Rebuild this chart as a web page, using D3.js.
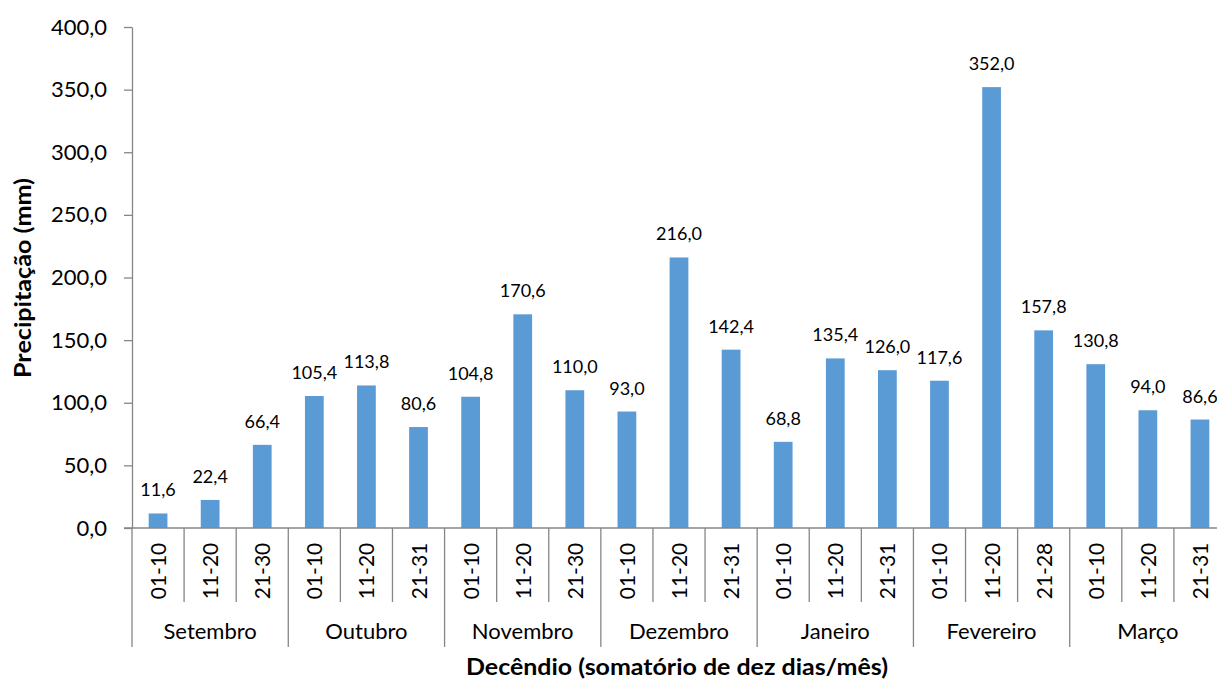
<!DOCTYPE html>
<html><head><meta charset="utf-8">
<script src="https://cdn.jsdelivr.net/npm/d3@7"></script>
<style>
html,body{margin:0;padding:0;background:#fff;overflow:hidden}
text{font-family:Lato,"Open Sans",sans-serif;fill:#000}
</style></head><body>
<svg id="c" width="1217" height="679"></svg>
<script>
const months = ["Setembro","Outubro","Novembro","Dezembro","Janeiro","Fevereiro","Março"];
const decendios = ["01-10","11-20","21-30","01-10","11-20","21-31","01-10","11-20","21-30","01-10","11-20","21-31","01-10","11-20","21-31","01-10","11-20","21-28","01-10","11-20","21-31"];
const values = [11.6,22.4,66.4,105.4,113.8,80.6,104.8,170.6,110.0,93.0,216.0,142.4,68.8,135.4,126.0,117.6,352.0,157.8,130.8,94.0,86.6];
const yTicks = [0,50,100,150,200,250,300,350,400];

const loc = d3.formatLocale({decimal:",",thousands:".",grouping:[3],currency:["R$",""]});
const fmt = loc.format(".1f");

const svg = d3.select("#c");
const L = 132, R = 1226, B = 528, T = 27;
const x = d3.scaleBand().domain(d3.range(values.length)).range([L,R]).paddingInner(0.64).paddingOuter(0.32);
const y = d3.scaleLinear().domain([0,400]).range([B,T]);
const step = x.step();
const axisColor = "#868686";

// y axis
const ya = svg.append("g").attr("transform",`translate(${L},0)`)
  .call(d3.axisLeft(y).tickValues(yTicks).tickFormat(fmt).tickSizeInner(8).tickSizeOuter(0).tickPadding(17));
ya.select(".domain").attr("stroke",axisColor).attr("stroke-width",1.3);
ya.selectAll(".tick line").attr("stroke",axisColor).attr("stroke-width",1.3);
ya.selectAll(".tick text").attr("font-size",22).attr("font-family","Lato").attr("fill","#000");

// bars
svg.append("g").selectAll("rect").data(values).join("rect")
  .attr("x",(d,i)=>x(i)).attr("width",x.bandwidth())
  .attr("y",d=>y(d)).attr("height",d=>B-y(d))
  .attr("fill","#5B9BD5");

// data labels
svg.append("g").selectAll("text").data(values).join("text")
  .attr("x",(d,i)=>x(i)+x.bandwidth()/2).attr("y",d=>y(d)-17)
  .attr("text-anchor","middle").attr("font-size",18).text(d=>fmt(d));

// x axis line
svg.append("line").attr("x1",L-8).attr("x2",R).attr("y1",B).attr("y2",B)
  .attr("stroke",axisColor).attr("stroke-width",1.3);

// category dividers
const g = svg.append("g");
d3.range(values.length+1).forEach(i=>{
  const xx = L + i*step;
  const isMonth = i%3===0;
  g.append("line").attr("x1",xx).attr("x2",xx).attr("y1",B).attr("y2",isMonth?647:602)
    .attr("stroke",axisColor).attr("stroke-width",1.3);
});

// decendio labels (rotated)
svg.append("g").selectAll("text").data(decendios).join("text")
  .attr("transform",(d,i)=>`translate(${x(i)+x.bandwidth()/2+8},${571}) rotate(-90)`)
  .attr("text-anchor","middle").attr("font-size",21).text(d=>d);

// month labels
svg.append("g").selectAll("text").data(months).join("text")
  .attr("x",(d,i)=>L + (i*3+1.5)*step).attr("y",639)
  .attr("text-anchor","middle").attr("font-size",22).text(d=>d);

// axis titles
svg.append("text").attr("transform","translate(31,278) rotate(-90)")
  .attr("text-anchor","middle").attr("font-size",22).attr("font-weight","bold")
  .attr("textLength",200).attr("lengthAdjust","spacingAndGlyphs")
  .text("Precipitação (mm)");
svg.append("text").attr("x",677).attr("y",675)
  .attr("text-anchor","middle").attr("font-size",22).attr("font-weight","bold")
  .attr("textLength",422).attr("lengthAdjust","spacingAndGlyphs")
  .text("Decêndio (somatório de dez dias/mês)");
</script></body></html>
